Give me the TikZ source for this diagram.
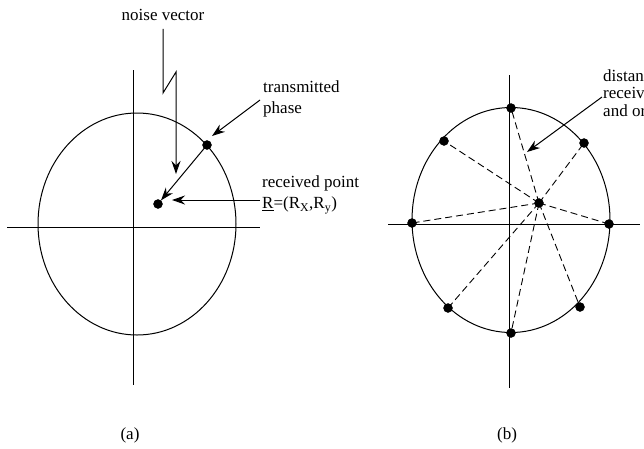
\documentclass[tikz,border=0pt]{standalone}
\usepackage{fontspec}
\setmainfont{Liberation Serif}
\usetikzlibrary{arrows.meta}

\begin{document}
\begin{tikzpicture}[
    x=1pt, y=-1pt,
    axisline/.style={line width=1pt},
    ring/.style={line width=1pt},
    pt/.style={draw, circle, fill=black, inner sep=0pt, minimum size=9pt},
    lbl/.style={font=\fontsize{17}{21}\selectfont, inner sep=0pt, align=left, anchor=west},
    ptr/.style={-{Stealth[length=13pt, width=9pt]}, line width=1pt},
    dist/.style={dash pattern=on 7pt off 4pt, line width=0.9pt}
]
\useasboundingbox (0,0) rectangle (644,448);
\clip (0,0) rectangle (644,448);

% Figure (a)
\draw[axisline] (133,70) -- (133,385);
\draw[axisline] (7,227) -- (260,227);
\draw[ring] (137,224) ellipse [x radius=99, y radius=111];

\node[pt] (tp) at (207,145) {};
\node[pt] (rp) at (158,204) {};

\node[lbl, anchor=center] (noise) at (163,15) {noise vector};
\node[lbl] (tx) at (263,99) {transmitted\\phase};
\node[lbl] (rx) at (262,195) {received point\\\underline{R}=(R\textsubscript{X},R\textsubscript{y})};

\coordinate (zig) at (163,93);
\coordinate (zag) at (176,72);
\coordinate (ntip) at (176,174);
\coordinate (rtip) at (172,200);
\coordinate (ttip) at (212,136);
\coordinate (ptail) at (260,100);
\coordinate (rtail) at (260,200);

\draw[ptr] (noise.south) ++(0,8) -- (zig) -- (zag) -- (ntip);
\draw[ptr] (tp.center) -- (rp);
\draw[ptr] (ptail) -- (ttip);
\draw[ptr] (rtail) -- (rtip);

\node[lbl, anchor=center] (capa) at (130,435) {(a)};

% Figure (b)
\draw[axisline] (509,75) -- (509,388);
\draw[axisline] (388,224) -- (640,224);
\draw[ring] (511,220) ellipse [x radius=99, y radius=112.5];

\coordinate (c) at (539,203);
\coordinate (s1) at (511,108);
\coordinate (s2) at (444,141);
\coordinate (s3) at (584,143);
\coordinate (s4) at (412,223);
\coordinate (s5) at (609,224);
\coordinate (s6) at (448,308);
\coordinate (s7) at (511,333);
\coordinate (s8) at (580,307);

\foreach \s in {s1,s2,s3,s4,s5,s6,s7,s8}
    \draw[dist] (c) -- (\s);
\foreach \s in {c,s1,s2,s3,s4,s5,s6,s7,s8}
    \node[pt] at (\s) {};

\node[lbl, font=\fontsize{17}{17.5}\selectfont] (dx) at (603,93) {distan\\receiv\\and or};
\coordinate (dtail) at (602,97);
\coordinate (dtip) at (527,152);
\draw[ptr] (dtail) -- (dtip);

\node[lbl, anchor=center] (capb) at (507,435) {(b)};

\end{tikzpicture}
\end{document}
